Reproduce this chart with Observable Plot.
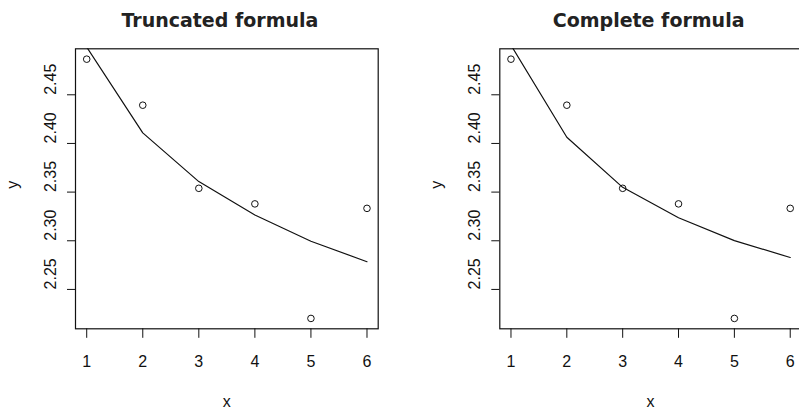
<!DOCTYPE html>
<html>
<head>
<meta charset="utf-8">
<script src="https://cdn.jsdelivr.net/npm/d3@7"></script>
<script src="https://cdn.jsdelivr.net/npm/@observablehq/plot@0.6"></script>
<style>
  html, body { margin: 0; padding: 0; background: #fff; }
  #wrap { position: relative; width: 799px; height: 409px; overflow: hidden; }
  .panel { position: absolute; top: 0; }
  .panel svg { display: block; background: #fff; max-width: none !important; }
</style>
</head>
<body>
<div id="wrap">
  <div class="panel" id="left" style="left:0px; width:400px"></div>
  <div class="panel" id="right" style="left:400px; width:410px"></div>
</div>
<script>
// Observations and the two fitted curves
const xs = [1, 2, 3, 4, 5, 6];
const observed = [2.4866, 2.4393, 2.3539, 2.3379, 2.2202, 2.3333];
const truncatedFit = [2.4990, 2.4109, 2.3608, 2.3265, 2.2995, 2.2785];
const completeFit = [2.5010, 2.4064, 2.3549, 2.3236, 2.3001, 2.2828];

// Axis ticks
const xTicks = [1, 2, 3, 4, 5, 6];
const yTicks = [2.25, 2.30, 2.35, 2.40, 2.45];

const titles = ["Truncated formula", "Complete formula"];

// R-style limits: data range padded by 4% on each side
function padded(values) {
  const [lo, hi] = d3.extent(values);
  const pad = (hi - lo) * 0.04;
  return [lo - pad, hi + pad];
}
const xDomain = padded(xs);
const yDomain = padded(observed);

const tickFont = "'Liberation Sans', Arial, sans-serif";
const titleFont = "'DejaVu Sans', sans-serif";
const labelSize = 16;

function panel(title, fit, {width, marginLeft, marginRight, titleShift}) {
  const points = xs.map((x, i) => ({x, y: observed[i]}));
  const curve = xs.map((x, i) => ({x, y: fit[i]}));
  return Plot.plot({
    width,
    height: 409,
    marginLeft,
    marginRight,
    marginTop: 48.3,
    marginBottom: 80.7,
    style: {fontFamily: tickFont, color: "#000", background: "#fff"},
    x: {domain: xDomain},
    y: {domain: yDomain},
    marks: [
      Plot.frame({stroke: "#111", strokeWidth: 1.2}),
      Plot.axisX({ticks: xTicks, tickSize: 9.5, tickFormat: () => "", label: null, stroke: "#111"}),
      Plot.axisY({ticks: yTicks, tickSize: 8, tickFormat: () => "", label: null, stroke: "#111"}),
      // tick labels
      Plot.text(xTicks, {x: d => d, frameAnchor: "bottom", dy: 33.4, lineAnchor: "middle",
        text: d => String(d), fontSize: labelSize, fill: "#111"}),
      Plot.text(yTicks, {y: d => d, frameAnchor: "left", dx: -25, rotate: -90, lineAnchor: "middle",
        text: d => d3.format(".2f")(d), fontSize: labelSize, fill: "#111"}),
      // axis titles
      Plot.text(["x"], {frameAnchor: "bottom", dy: 73.4, lineAnchor: "middle", fontSize: labelSize, fill: "#111"}),
      Plot.text(["y"], {frameAnchor: "left", dx: -62.5, rotate: -90, lineAnchor: "middle", fontSize: labelSize, fill: "#111"}),
      // panel title
      Plot.text([title], {frameAnchor: "top", dx: titleShift, dy: -28.3, lineAnchor: "middle", fontSize: 19,
        fontWeight: "bold", fontFamily: titleFont, fill: "#222"}),
      // fitted curve and observations
      Plot.line(curve, {x: "x", y: "y", stroke: "#111", strokeWidth: 1.2, clip: true}),
      Plot.dot(points, {x: "x", y: "y", r: 3.3, stroke: "#111", strokeWidth: 1, fill: "none"})
    ]
  });
}

document.getElementById("left").append(
  panel(titles[0], truncatedFit, {width: 400, marginLeft: 75, marginRight: 22.3, titleShift: -7})
);
document.getElementById("right").append(
  panel(titles[1], completeFit, {width: 410, marginLeft: 99.3, marginRight: 9.1, titleShift: -2})
);
</script>
</body>
</html>
